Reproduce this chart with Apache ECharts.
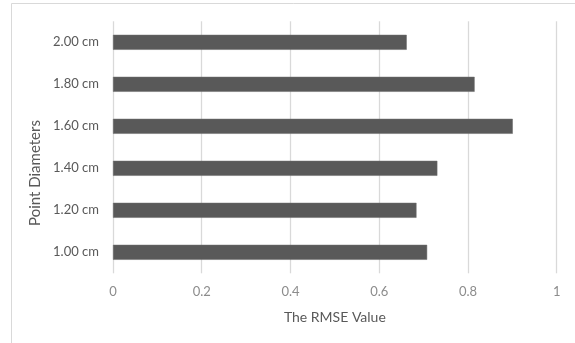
<!DOCTYPE html>
<html>
<head>
<meta charset="utf-8">
<script src="https://cdn.jsdelivr.net/npm/echarts@6/dist/echarts.min.js"></script>
<style>
  html, body { margin: 0; padding: 0; background: #ffffff; }
  #chart { width: 575px; height: 343px; }
</style>
</head>
<body>
<div id="chart"></div>
<script>
// Point diameters, listed bottom to top
const categories = ['1.00 cm', '1.20 cm', '1.40 cm', '1.60 cm', '1.80 cm', '2.00 cm'];
// RMSE per diameter
const rmseValues = [0.708, 0.684, 0.731, 0.901, 0.815, 0.662];
const xMin = 0;
const xMax = 1;
const xStep = 0.2;

const FONT = 'Lato, "Open Sans", sans-serif';

const chart = echarts.init(document.getElementById('chart'), null, { renderer: 'canvas' });

chart.setOption({
  animation: false,
  backgroundColor: '#ffffff',
  grid: { left: 113, right: 18.3, top: 21.3, bottom: 69.7, containLabel: false },
  xAxis: {
    type: 'value',
    min: xMin,
    max: xMax,
    interval: xStep,
    name: 'The RMSE Value',
    nameLocation: 'middle',
    nameGap: 37,
    nameTextStyle: { color: '#595959', fontSize: 14, fontFamily: FONT },
    axisLine: { show: false },
    axisTick: { show: false },
    axisLabel: { color: '#8c8c8c', fontSize: 13, fontFamily: FONT, margin: 12 },
    splitLine: { show: true, lineStyle: { color: '#d9d9d9', width: 1.3 } }
  },
  yAxis: {
    type: 'category',
    data: categories,
    axisLine: { show: false },
    axisTick: { show: false },
    axisLabel: { color: '#595959', fontSize: 13, fontFamily: FONT, margin: 14 },
    splitLine: { show: false }
  },
  graphic: [
    {
      type: 'rect',
      shape: { x: 11.5, y: 3.5, width: 600, height: 400 },
      style: { fill: 'none', stroke: '#d9d9d9', lineWidth: 1 },
      silent: true
    },
    {
      type: 'text',
      x: 35,
      y: 173,
      rotation: Math.PI / 2,
      style: {
        text: 'Point Diameters',
        fill: '#595959',
        fontSize: 15,
        fontFamily: FONT,
        align: 'center',
        verticalAlign: 'middle'
      },
      silent: true
    }
  ],
  series: [
    {
      type: 'bar',
      data: rmseValues,
      barWidth: 15,
      itemStyle: { color: '#595959', borderColor: '#6b6b6b', borderWidth: 0.5 }
    }
  ]
});
</script>
</body>
</html>
